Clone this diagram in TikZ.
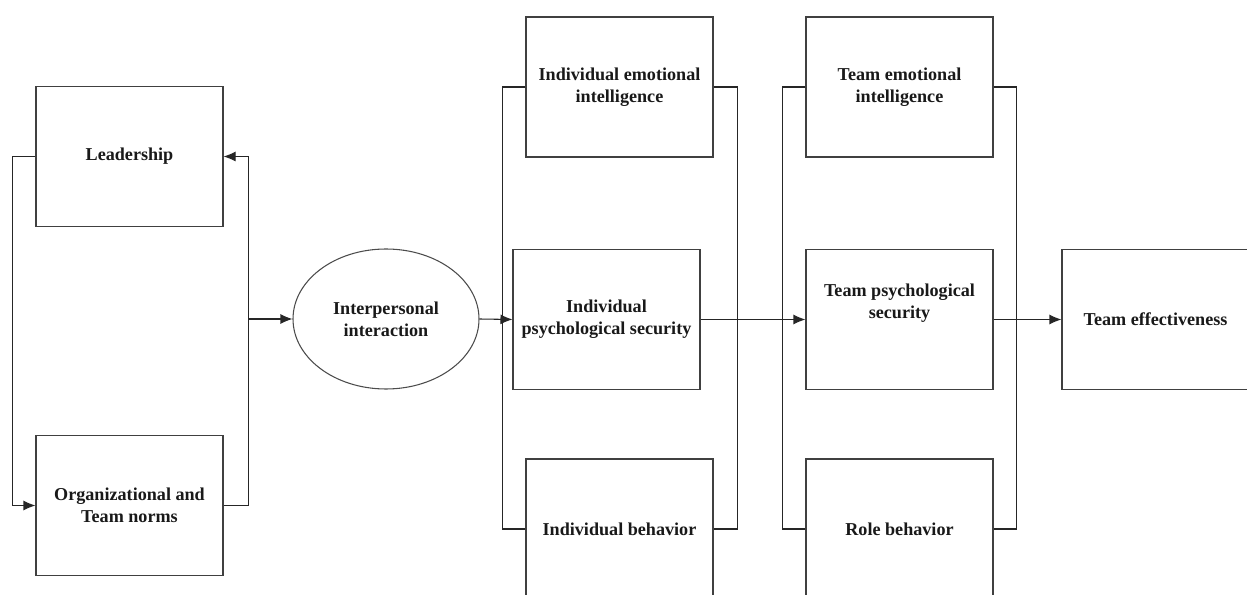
\documentclass[tikz,border=0pt]{standalone}
\usepackage{fontspec}
\setmainfont{Liberation Serif}
\usetikzlibrary{shapes.geometric,arrows.meta}
\begin{document}
\begin{tikzpicture}[x=0.75pt,y=-0.75pt,
  every node/.style={font=\fontsize{13.6}{16.5}\selectfont\bfseries, text=black!90},
  box/.style={draw=black!75, line width=0.8pt, fill=white, minimum width=140.25pt, minimum height=105pt, align=center, inner sep=0pt},
  oval/.style={ellipse, draw=black!70, line width=0.8pt, minimum width=139.5pt, minimum height=105pt, align=center, inner sep=0pt},
  conn/.style={draw=black!85, line width=0.8pt},
  arr/.style={conn, -{Latex[length=9pt,width=7.5pt]}}]
\useasboundingbox (0,0) rectangle (1247,595);
\clip (0,0) rectangle (1247,595);
\node[box] (iei) at (619.5,87) {Individual emotional\\intelligence};
\node[box] (ips) at (606.5,319.5) {Individual\\psychological security};
\node[box] (ib) at (619.5,529) {Individual behavior};
\node[box, label={[name=tpsl, align=center, yshift=12pt]center:Team psychological\\security}] (tps) at (899.5,319.5) {};
\node[box] (tei) at (899.5,87) {Team emotional\\intelligence};
\node[box] (rb) at (899.5,529) {Role behavior};
\node[box] (te) at (1155.5,319.5) {Team effectiveness};
\node[box] (lead) at (129.5,156.5) {Leadership};
\node[box] (org) at (129.5,505.5) {Organizational and\\Team norms};
\node[oval] (ell) at (386,319) {Interpersonal\\interaction};
% left loop
\draw[arr] (lead.west) -- ++(-23,0) |- (org.west);
\draw[arr] (org.east) -- ++(25,0) coordinate (jr) |- (lead.east);
\coordinate (j1) at (jr |- ell.west);
\draw[arr] (j1) -- (ell.west);
\draw[arr] (ell.east) -- (ips.west);
% bracket 2
\draw[conn] (iei.west) -- ++(-23,0) |- (ib.west);
\draw[conn] (iei.east) -- ++(24,0) |- (ib.east);
% bracket 3
\draw[conn] (tei.west) -- ++(-23,0) |- (rb.west);
\draw[conn] (tei.east) -- ++(23,0) |- (rb.east);
\draw[arr] (ips.east) -- (tps.west);
\draw[arr] (tps.east) -- (te.west);
\end{tikzpicture}
\end{document}
